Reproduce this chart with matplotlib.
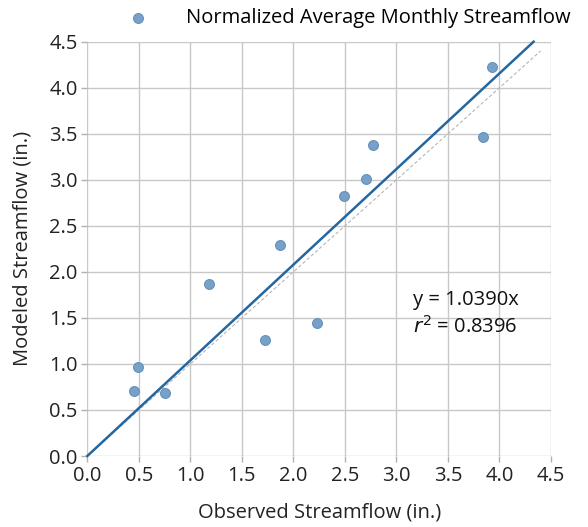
import matplotlib
matplotlib.use("Agg")
import matplotlib.pyplot as plt
import numpy as np

plt.rcParams['font.family'] = ['Open Sans', 'DejaVu Sans']

observed = [0.45, 0.49, 0.75, 1.18, 1.72, 1.87, 2.23, 2.49, 2.70, 2.77, 3.84, 3.93]
modeled = [0.71, 0.97, 0.68, 1.87, 1.26, 2.29, 1.44, 2.82, 3.01, 3.38, 3.46, 4.22]
slope = 1.0390
r2 = 0.8396
ticks = [0.0, 0.5, 1.0, 1.5, 2.0, 2.5, 3.0, 3.5, 4.0, 4.5]

FS = 14.5
fig = plt.figure(figsize=(5.88, 5.27), dpi=100)
ax = fig.add_axes([87.3/588, 1 - 456/527, (551 - 87.3)/588, (456 - 41.7)/527])

ax.set_xlim(0, 4.5)
ax.set_ylim(0, 4.5)
ax.set_xticks(ticks)
ax.set_yticks(ticks)
ax.set_xticklabels([f"{t:.1f}" for t in ticks])
ax.set_yticklabels([f"{t:.1f}" for t in ticks])
ax.grid(True, color='#c8c8c8', linewidth=1.0)
ax.set_axisbelow(True)
for s in ax.spines.values():
    s.set_visible(False)
ax.tick_params(axis='both', colors='#b0b0b0', length=4, width=1.0, labelcolor='#222222', labelsize=FS, pad=3)

# 1:1 reference line
xs1 = np.array([0, 4.4])
ax.plot(xs1, xs1, color='#b5b5b5', linewidth=0.8, linestyle=(0, (3, 2)), zorder=2)
# regression line
xs = np.array([0, 4.5 / slope])
ax.plot(xs, slope * xs, color='#2467a0', linewidth=1.8, zorder=3, clip_on=False)

ax.scatter(observed, modeled, s=50, color='#77a1c8', edgecolor='#6390ba', linewidth=0.8, zorder=4,
           label='Normalized Average Monthly Streamflow')

ax.text(3.16, 1.69, f"y = {slope:.4f}x", fontsize=FS, color='#111111', ha='left', va='center')
ax.text(3.16, 1.40, r"$r^2$" + f" = {r2:.4f}", fontsize=FS, color='#111111', ha='left', va='center')

ax.set_xlabel("Observed Streamflow (in.)", fontsize=FS, color='#222222', labelpad=12)
ax.set_ylabel("Modeled Streamflow (in.)", fontsize=FS, color='#222222', labelpad=12)

leg = fig.legend(loc='center', bbox_to_anchor=(0.585, 1 - 18/527), frameon=False, fontsize=FS,
                 handletextpad=1.4, markerscale=1.0)

fig.savefig("out.png", dpi=100)
